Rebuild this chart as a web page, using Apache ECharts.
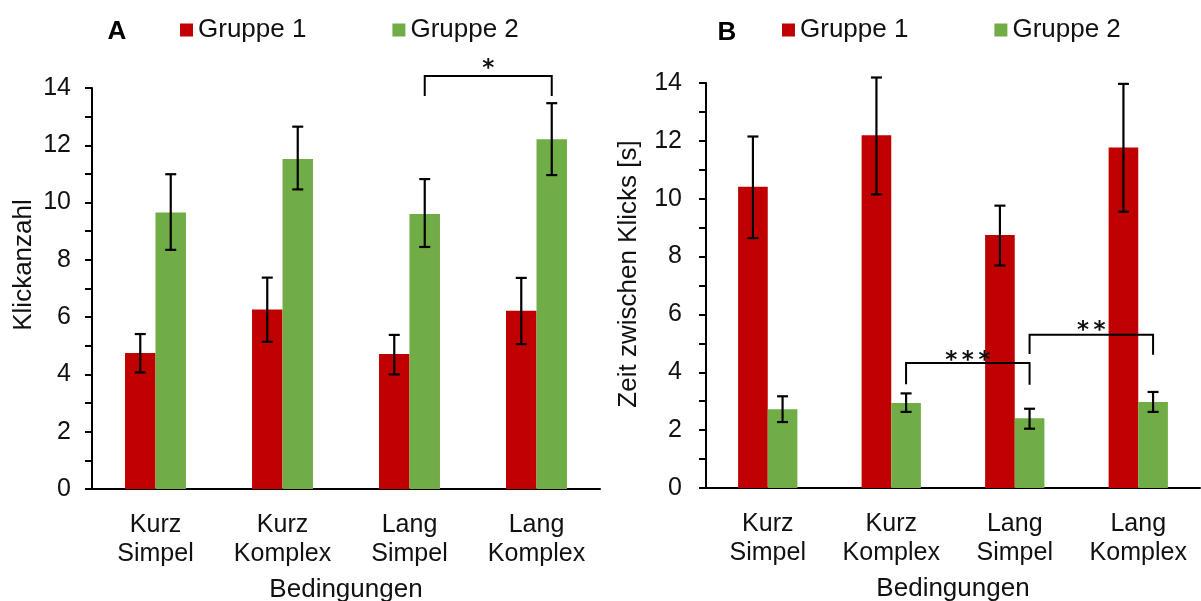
<!DOCTYPE html>
<html>
<head>
<meta charset="utf-8">
<script src="https://cdn.jsdelivr.net/npm/echarts@6/dist/echarts.min.js"></script>
<style>
  html, body { margin: 0; padding: 0; background: #fff; }
  #chart { width: 1201px; height: 601px; }
</style>
</head>
<body>
<div id="chart"></div>
<script>
// ---------- data ----------
const categories = ['Kurz\nSimpel', 'Kurz\nKomplex', 'Lang\nSimpel', 'Lang\nKomplex'];
const groupNames = ['Gruppe 1', 'Gruppe 2'];

// Panel A: Klickanzahl
const clicksG1 = [4.75, 6.27, 4.71, 6.22];
const clicksG1Low = [4.07, 5.14, 4.00, 5.06];
const clicksG1High = [5.41, 7.38, 5.38, 7.37];
const clicksG2 = [9.65, 11.52, 9.60, 12.21];
const clicksG2Low = [8.35, 10.46, 8.45, 10.96];
const clicksG2High = [10.99, 12.65, 10.82, 13.47];

// Panel B: Zeit zwischen Klicks [s]
const timeG1 = [10.41, 12.19, 8.75, 11.77];
const timeG1Low = [8.64, 10.15, 7.69, 9.55];
const timeG1High = [12.15, 14.19, 9.76, 13.97];
const timeG2 = [2.72, 2.94, 2.41, 2.97];
const timeG2Low = [2.28, 2.63, 2.05, 2.63];
const timeG2High = [3.17, 3.27, 2.74, 3.32];

// y axis range
const yMin = 0, yMax = 14, yStep = 1;

// significance brackets: [fromCat, toCat, leftLegEnd, top, rightLegEnd, label, labelY]
const sigA = [[2, 3, 13.72, 14.42, 13.72, '*', 14.87]];
const sigB = [
  [1, 2, 3.59, 4.32, 3.57, '*\u2009*\u2009*', 4.61],
  [2, 3, 4.63, 5.30, 4.61, '*\u2009*', 5.64]
];

// ---------- styling ----------
const FONT = "'Liberation Sans', Arial, sans-serif";
const STAR_FONT = "'DejaVu Sans', sans-serif";
const RED = '#C00000';
const GREEN = '#70AD47';
const BAR_FRAC = 0.24;
const TXT = '#111';

const chart = echarts.init(document.getElementById('chart'), null, { renderer: 'canvas' });

function xAxis(gi) {
  return {
    type: 'category', gridIndex: gi, data: categories,
    axisLine: { lineStyle: { color: '#000', width: 2 } },
    axisTick: { alignWithLabel: true, length: 7, lineStyle: { color: '#000', width: 2 } },
    axisLabel: { interval: 0, fontSize: 25, color: TXT, lineHeight: 29, margin: 22, fontFamily: FONT },
    name: 'Bedingungen', nameLocation: 'middle', nameGap: 88,
    nameTextStyle: { fontSize: 26, color: TXT, fontFamily: FONT }
  };
}
function yAxis(gi, margin) {
  return {
    type: 'value', gridIndex: gi, min: yMin, max: yMax, interval: yStep,
    splitLine: { show: false },
    axisLine: { show: true, lineStyle: { color: '#000', width: 2 } },
    axisTick: { show: true, length: 7, lineStyle: { color: '#000', width: 2 } },
    axisLabel: { formatter: v => (v % 2 === 0 ? String(v) : ''), fontSize: 25, color: TXT, margin: margin, fontFamily: FONT }
  };
}
function bars(gi, name, data, color) {
  return {
    type: 'bar', name: name, xAxisIndex: gi, yAxisIndex: gi, data: data,
    barWidth: (BAR_FRAC * 100) + '%', barGap: '0%',
    itemStyle: { color: color }, z: 2
  };
}
const lineStyle = { stroke: '#000', lineWidth: 2.2 };
function errBars(gi, low, high, side) {
  return {
    type: 'custom', name: 'err' + gi + side, xAxisIndex: gi, yAxisIndex: gi, clip: false, z: 10,
    data: low.map((l, i) => [i, l, high[i]]),
    encode: { x: 0, y: [1, 2] },
    silent: true,
    renderItem: function (params, api) {
      const i = api.value(0);
      const lo = api.coord([i, api.value(1)]);
      const hi = api.coord([i, api.value(2)]);
      const band = api.size([1, 0])[0];
      const x = lo[0] + side * band * BAR_FRAC / 2;
      const cap = 5.5;
      return {
        type: 'group', children: [
          { type: 'line', shape: { x1: x, y1: lo[1], x2: x, y2: hi[1] }, style: lineStyle },
          { type: 'line', shape: { x1: x - cap, y1: lo[1], x2: x + cap, y2: lo[1] }, style: lineStyle },
          { type: 'line', shape: { x1: x - cap, y1: hi[1], x2: x + cap, y2: hi[1] }, style: lineStyle }
        ]
      };
    }
  };
}
function brackets(gi, sig) {
  return {
    type: 'custom', name: 'sig' + gi, xAxisIndex: gi, yAxisIndex: gi, clip: false, z: 11, silent: true,
    data: sig.map(s => [s[0], s[1], s[2], s[3], s[4], s[6]]),
    encode: { x: 0, y: 3 },
    renderItem: function (params, api) {
      const s = sig[params.dataIndex];
      const band = api.size([1, 0])[0];
      const off = band * BAR_FRAC / 2; // green bar centre
      const pL = api.coord([s[0], s[2]]);
      const pT1 = api.coord([s[0], s[3]]);
      const pT2 = api.coord([s[1], s[3]]);
      const pR = api.coord([s[1], s[4]]);
      const lab = api.coord([s[0], s[6]]);
      const xl = pL[0] + off, xr = pR[0] + off;
      return {
        type: 'group', children: [
          { type: 'polyline', shape: { points: [[xl, pL[1]], [xl, pT1[1]], [xr, pT2[1]], [xr, pR[1]]] },
            style: { stroke: '#000', lineWidth: 2, fill: null } },
          { type: 'text', style: { text: s[5], x: (xl + xr) / 2, y: lab[1] + 6, align: 'center', verticalAlign: 'middle',
            fontSize: 23, fontWeight: 'bold', fontFamily: STAR_FONT, fill: '#111' } }
        ]
      };
    }
  };
}
function legend(left) {
  return {
    left: left, top: 12, itemWidth: 13, itemHeight: 13, itemGap: 86, icon: 'rect',
    data: groupNames, textStyle: { fontSize: 26, color: TXT, fontFamily: FONT }, selectedMode: false
  };
}

const option = {
  animation: false,
  backgroundColor: '#fff',
  textStyle: { fontFamily: FONT },
  grid: [
    { left: 92, top: 88, width: 508, height: 401, containLabel: false, outerBoundsMode: 'none' },
    { left: 706, top: 83, width: 494, height: 405, containLabel: false, outerBoundsMode: 'none' }
  ],
  legend: [legend(175), legend(777)],
  xAxis: [xAxis(0), xAxis(1)],
  yAxis: [yAxis(0, 21), yAxis(1, 24)],
  graphic: [
    { type: 'text', x: 117, y: 32, style: { text: 'A', fontSize: 26, fontWeight: 'bold', fontFamily: FONT, fill: '#000', align: 'center', verticalAlign: 'middle' } },
    { type: 'text', x: 727, y: 33, style: { text: 'B', fontSize: 26, fontWeight: 'bold', fontFamily: FONT, fill: '#000', align: 'center', verticalAlign: 'middle' } },
    { type: 'text', x: 24, y: 265, rotation: Math.PI / 2, style: { text: 'Klickanzahl', fontSize: 26, fontFamily: FONT, fill: TXT, align: 'center', verticalAlign: 'middle' } },
    { type: 'text', x: 629, y: 274, rotation: Math.PI / 2, style: { text: 'Zeit zwischen Klicks [s]', fontSize: 26, fontFamily: FONT, fill: TXT, align: 'center', verticalAlign: 'middle' } }
  ],
  series: [
    bars(0, groupNames[0], clicksG1, RED),
    bars(0, groupNames[1], clicksG2, GREEN),
    bars(1, groupNames[0], timeG1, RED),
    bars(1, groupNames[1], timeG2, GREEN),
    errBars(0, clicksG1Low, clicksG1High, -1),
    errBars(0, clicksG2Low, clicksG2High, 1),
    errBars(1, timeG1Low, timeG1High, -1),
    errBars(1, timeG2Low, timeG2High, 1),
    brackets(0, sigA),
    brackets(1, sigB)
  ]
};
chart.setOption(option);
</script>
</body>
</html>
